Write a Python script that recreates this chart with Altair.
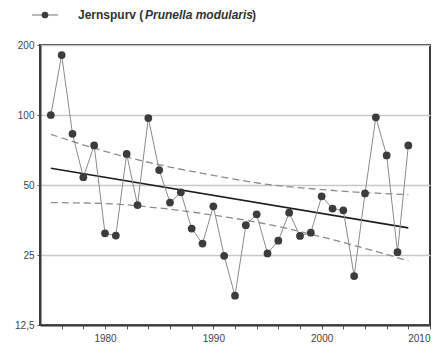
import altair as alt
import pandas as pd

years = list(range(1975, 2009))
index_values = [100, 181, 83, 54, 74, 31, 30.3, 68, 41, 97,
                58, 42, 46.5, 32.5, 28, 40.5, 24.8, 16.7, 33.6, 37.4,
                25.4, 28.8, 38, 30.2, 31.2, 44.7, 39.6, 38.9, 20.3, 46,
                97.7, 67, 25.7, 74]

trend_years = [1975, 2008]
trend_values = [59.0, 32.7]

band_years = [1975, 1980, 1985, 1990, 1995, 2000, 2005, 2008]
upper_values = [82.6, 69.8, 61.1, 55.0, 50.3, 47.8, 46.1, 45.5]
lower_values = [42.0, 41.6, 39.8, 37.1, 33.9, 29.9, 25.9, 23.6]

y_ticks = [12.5, 25, 50, 100, 200]
x_ticks = list(range(1976, 2011, 2))

legend_label = "Jernspurv ("
legend_species = "Prunella modularis"
legend_close = ")"

obs = pd.DataFrame({"year": years, "value": index_values})
trend = pd.DataFrame({"year": trend_years, "value": trend_values})
band = pd.concat([
    pd.DataFrame({"year": band_years, "value": upper_values, "side": "upper"}),
    pd.DataFrame({"year": band_years, "value": lower_values, "side": "lower"}),
])

x_scale = alt.Scale(domain=[1974, 2010], nice=False, zero=False)
y_scale = alt.Scale(type="log", domain=[12.5, 200], nice=False)

x_enc = alt.X("year:Q", scale=x_scale, title=None,
              axis=alt.Axis(values=x_ticks, grid=False,
                            labelExpr="datum.value % 10 == 0 ? datum.label : ''",
                            format="d", tickSize=4, labelPadding=4))
y_enc = alt.Y("value:Q", scale=y_scale, title=None,
              axis=alt.Axis(values=y_ticks, grid=True,
                            labelExpr="replace(format(datum.value, ''), '.', ',')",
                            tickSize=3, labelPadding=3))

dashed = alt.Chart(band).mark_line(
    color="#8c8c8c", strokeWidth=1.3, strokeDash=[7, 4], interpolate="monotone"
).encode(x=x_enc, y=y_enc, detail="side:N")

trend_line = alt.Chart(trend).mark_line(color="#1e1e1e", strokeWidth=1.6).encode(x=x_enc, y=y_enc)

obs_line = alt.Chart(obs).mark_line(color="#8a8a8a", strokeWidth=1).encode(x=x_enc, y=y_enc)
obs_pts = alt.Chart(obs).mark_circle(color="#3c3c3c", size=60, opacity=1).encode(x=x_enc, y=y_enc)

one = pd.DataFrame({"a": [0]})
leg_rule = alt.Chart(one).mark_rule(color="#8a8a8a", strokeWidth=1.2).encode(
    x=alt.value(-8), x2=alt.value(18), y=alt.value(-30))
leg_pt = alt.Chart(one).mark_circle(color="#3c3c3c", size=45, opacity=1).encode(
    x=alt.value(5), y=alt.value(-30))
leg_t1 = alt.Chart(one).mark_text(
    text=legend_label, font="Liberation Sans", fontSize=12, fontWeight="bold",
    align="left", baseline="middle", color="#333333").encode(x=alt.value(38), y=alt.value(-30))
leg_t2 = alt.Chart(one).mark_text(
    text=legend_species, font="Liberation Sans", fontSize=12, fontWeight="bold",
    fontStyle="italic", align="left", baseline="middle", color="#333333").encode(
    x=alt.value(105), y=alt.value(-30))
leg_t3 = alt.Chart(one).mark_text(
    text=legend_close, font="Liberation Sans", fontSize=12, fontWeight="bold",
    align="left", baseline="middle", color="#333333").encode(x=alt.value(212), y=alt.value(-30))

chart = alt.layer(
    dashed, trend_line, obs_line, obs_pts, leg_rule, leg_pt, leg_t1, leg_t2, leg_t3
).properties(
    width=390, height=280,
    autosize=alt.AutoSizeParams(type="none"),
    padding={"left": 32, "top": 37, "right": 8, "bottom": 30},
).configure_view(
    stroke="#3a3a3a", strokeWidth=2
).configure_axis(
    domainColor="#3a3a3a", domainWidth=2, tickColor="#555555", tickWidth=1,
    labelFont="Liberation Sans", labelFontSize=10, labelColor="#444444",
    gridColor="#c8c8c8", gridWidth=1.5
)

chart.save("out.html", embed_options={"renderer": "svg", "actions": False})
